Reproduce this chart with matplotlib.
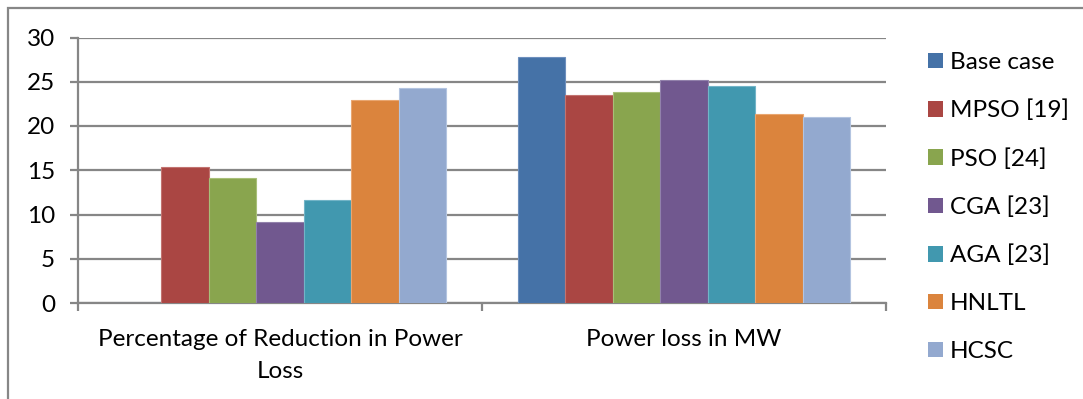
import matplotlib
matplotlib.use("Agg")
import matplotlib.pyplot as plt
import numpy as np
from matplotlib.patches import Patch, Rectangle

plt.rcParams['font.family'] = ['Lato', 'DejaVu Sans']

categories = ["Percentage of Reduction in Power\nLoss", "Power loss in MW"]
series_names = ["Base case", "MPSO [19]", "PSO [24]", "CGA [23]", "AGA [23]", "HNLTL", "HCSC"]
base_case = [0.0, 27.8]
mpso = [15.4, 23.5]
pso = [14.1, 23.8]
cga = [9.1, 25.2]
aga = [11.6, 24.5]
hnltl = [22.9, 21.4]
hcsc = [24.3, 21.0]
series_values = [base_case, mpso, pso, cga, aga, hnltl, hcsc]
colors = ["#4572A7", "#AA4643", "#89A54E", "#71588F", "#4198AF", "#DB843D", "#93A9CF"]
edge_colors = ["#6d8fbd", "#c27370", "#a8bf78", "#9281ab", "#72b4c7", "#e9a670", "#b3c4e0"]
yticks = [0, 5, 10, 15, 20, 25, 30]

W, H = 1083, 399
fig = plt.figure(figsize=(W / 100, H / 100), dpi=100)
ax = fig.add_axes([78 / W, 1 - 303 / H, (886 - 78) / W, (303 - 37.5) / H])

grid_c = "#868686"
n = len(series_names)
bw = 0.1176
x = np.arange(len(categories))
for i, (name, vals) in enumerate(zip(series_names, series_values)):
    off = (i - (n - 1) / 2) * bw
    ax.bar(x + off, vals, width=bw, color=colors[i], edgecolor=edge_colors[i],
           linewidth=0.8, label=name, zorder=3)

ax.set_xlim(-0.5, 1.5)
ax.set_ylim(0, 30)
ax.set_yticks(yticks)
ax.set_yticklabels([str(t) for t in yticks])
ax.yaxis.grid(True, color=grid_c, linewidth=1.6, zorder=0)
ax.set_axisbelow(True)

for s in ["top", "right"]:
    ax.spines[s].set_visible(False)
for s in ["left", "bottom"]:
    ax.spines[s].set_color(grid_c)
    ax.spines[s].set_linewidth(1.6)

fs = 17.5
ax.tick_params(axis='y', length=6, width=1.6, color=grid_c, pad=10.5, labelsize=fs, labelcolor="black")
ax.set_xticks([-0.5, 0.5, 1.5])
ax.set_xticklabels([])
ax.tick_params(axis='x', which='major', length=6, width=1.6, color=grid_c)
ax.set_xticks(x, minor=True)
ax.set_xticklabels(categories, minor=True, fontsize=fs, linespacing=1.62)
ax.tick_params(axis='x', which='minor', length=0, pad=19)

handles = [Patch(facecolor=c, edgecolor='none') for c in colors]
fig.legend(handles, series_names, loc='upper left', bbox_to_anchor=(928 / W, 1 - 52 / H),
           frameon=False, fontsize=fs, handlelength=0.6, handleheight=0.6,
           handletextpad=0.3, labelspacing=1.1, borderaxespad=0, borderpad=0)

border = Rectangle((8 / W, -0.05), 1.2, 1 - 8 / H + 0.05, transform=fig.transFigure,
                   fill=False, edgecolor="#878787", linewidth=1.6)
fig.patches.append(border)

fig.savefig("out.png", dpi=100)
